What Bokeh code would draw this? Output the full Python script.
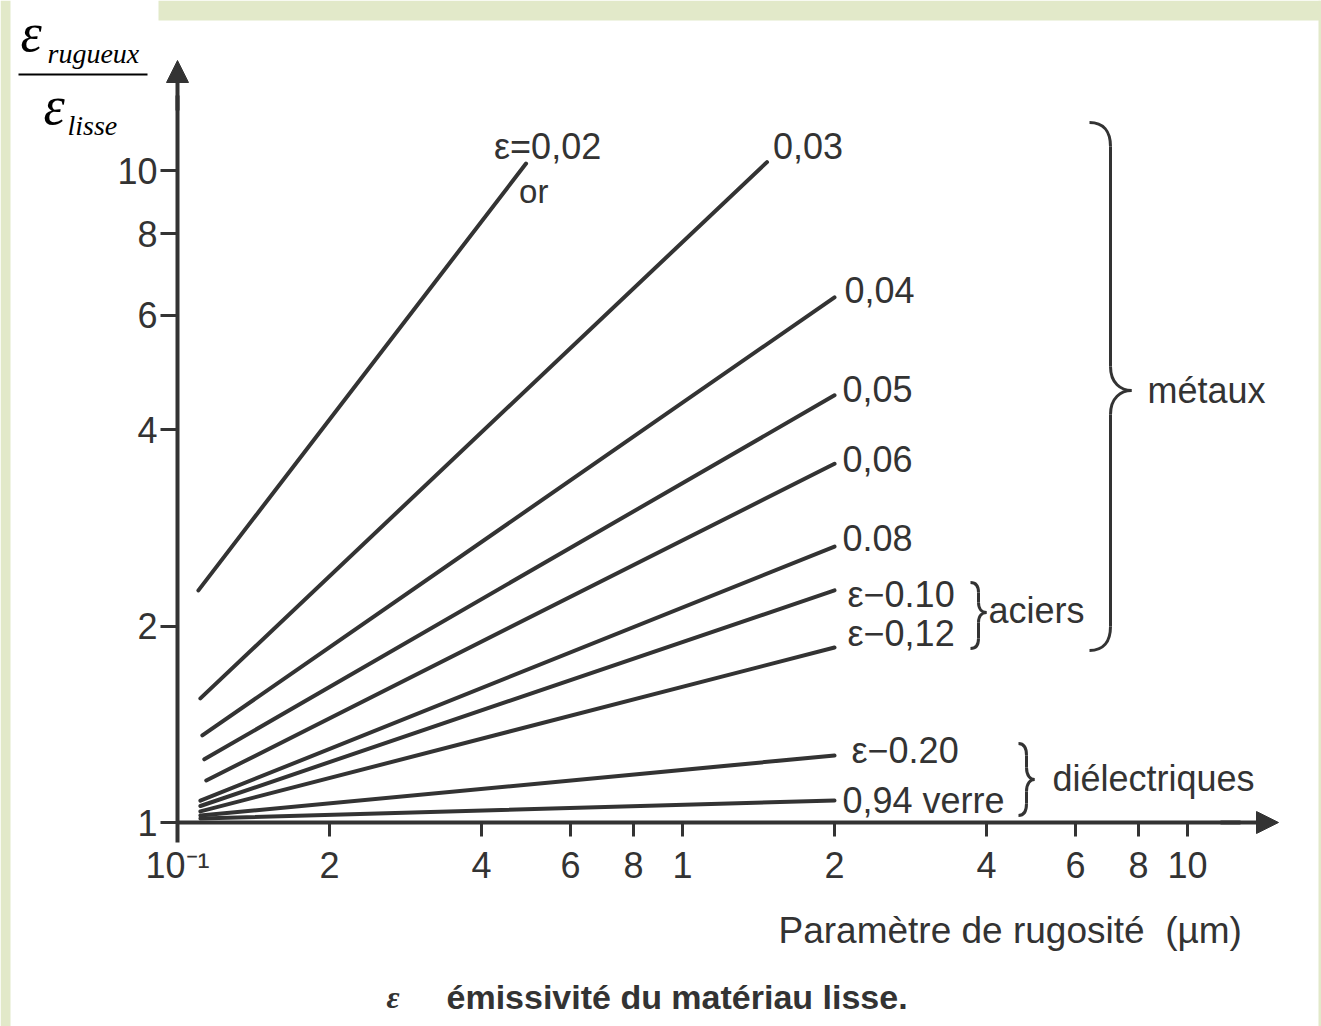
import math
from bokeh.plotting import figure
from bokeh.models import (ColumnDataSource, LogAxis, FixedTicker, Arrow, NormalHead,
                          Label, Range1d)
from bokeh.core.properties import value
from bokeh.embed import file_html
from bokeh.resources import INLINE

# ---------------- data ----------------
emissivity = ["0.02", "0.03", "0.04", "0.05", "0.06", "0.08", "0.10", "0.12", "0.20", "0.94"]
curve_labels = ["ε=0,02", "0,03", "0,04", "0,05", "0,06", "0.08", "ε−0.10", "ε−0,12", "ε−0.20", "0,94 verre"]
rough_start = [0.110, 0.111, 0.112, 0.113, 0.114, 0.111, 0.111, 0.111, 0.111, 0.111]   # µm
rough_end = [0.49, 1.47, 2.0, 2.0, 2.0, 2.0, 2.0, 2.0, 2.0, 2.0]                       # µm
ratio_start = [2.27, 1.55, 1.36, 1.25, 1.16, 1.08, 1.06, 1.04, 1.025, 1.014]
ratio_end = [10.25, 10.3, 6.39, 4.52, 3.55, 2.65, 2.27, 1.855, 1.267, 1.081]

x_ticks = [0.1, 0.2, 0.4, 0.6, 0.8, 1, 2, 4, 6, 8, 10]
x_tick_labels = ["10⁻¹", "2", "4", "6", "8", "1", "2", "4", "6", "8", "10"]
y_ticks = [1, 2, 4, 6, 8, 10]
y_tick_labels = ["1", "2", "4", "6", "8", "10"]

# ---------------- layout / style ----------------
W, H = 1321, 1026
X0_PX, X_DEC = 177, 505     # screen position of x = 0.1 and pixels per decade
Y0_PX, Y_DEC = 822, 652     # screen position of y = 1 and pixels per decade
INK = "#333333"
GREEN = "#e2e9c9"
FONT = value("Liberation Sans")

# label offsets (px) from the end of each curve (y positive = down)
label_dx = [-32, 6, 10, 8, 8, 8, 13, 13, 17, 8]
label_dy = [-17, -16, -7, -6, -5, -9, 4, -14, -5, 0]


def xd(px):
    return 0.1 * 10 ** ((px - X0_PX) / X_DEC)


def yd(py):
    return 10 ** ((Y0_PX - py) / Y_DEC)


p = figure(width=W, height=H, x_axis_type="log", y_axis_type="log",
           x_range=Range1d(xd(0), xd(W)), y_range=Range1d(yd(H), yd(0)),
           x_axis_location=None, y_axis_location=None,
           output_backend="svg", toolbar_location=None,
           min_border=0, min_border_left=0, min_border_right=0,
           min_border_top=0, min_border_bottom=0,
           background_fill_color="white", border_fill_color="white",
           outline_line_color=None)
p.xgrid.visible = False
p.ygrid.visible = False

# page frame strips (light green)
p.quad(left=[xd(0), xd(158), xd(1318)], right=[xd(10), xd(W), xd(W)],
       bottom=[yd(H), yd(20), yd(H)], top=[yd(0), yd(0), yd(0)],
       fill_color=GREEN, line_color=None)

# ---------------- axes ----------------
yax = LogAxis(fixed_location=0.1, ticker=FixedTicker(ticks=y_ticks),
              bounds=(yd(842), yd(95)))
yax.major_label_overrides = dict(zip(y_ticks, y_tick_labels))
xax = LogAxis(fixed_location=1.0, ticker=FixedTicker(ticks=x_ticks),
              bounds=(0.1, xd(1240)))
xax.major_label_overrides = dict(zip(x_ticks, x_tick_labels))
for ax in (yax, xax):
    ax.axis_line_color = INK
    ax.axis_line_width = 4
    ax.major_tick_line_color = INK
    ax.major_tick_line_width = 3
    ax.major_tick_in = 0
    ax.minor_tick_in = 0
    ax.minor_tick_out = 0
    ax.major_label_text_font = "Liberation Sans"
    ax.major_label_text_font_size = "36px"
    ax.major_label_text_color = INK
yax.major_tick_out = 17
yax.major_label_standoff = 3
xax.major_tick_out = 14
xax.major_label_standoff = 8
p.add_layout(yax, "left")
p.add_layout(xax, "below")

p.add_layout(Arrow(x_start=0.1, y_start=yd(110), x_end=0.1, y_end=yd(60),
                   end=NormalHead(size=22, fill_color=INK, line_color=INK, line_width=1),
                   line_width=4, line_color=INK))
p.add_layout(Arrow(x_start=xd(1220), y_start=1, x_end=xd(1278), y_end=1,
                   end=NormalHead(size=22, fill_color=INK, line_color=INK, line_width=1),
                   line_width=4, line_color=INK))

# ---------------- curves ----------------
for i in range(len(emissivity)):
    p.line(x=[rough_start[i], rough_end[i]], y=[ratio_start[i], ratio_end[i]],
           line_color=INK, line_width=4, line_cap="round")

src = ColumnDataSource(dict(x=rough_end, y=ratio_end, text=curve_labels,
                            dx=label_dx, dy=label_dy))
p.text(x="x", y="y", text="text", x_offset="dx", y_offset="dy", source=src,
       text_font=FONT, text_font_size="36px", text_color=INK,
       text_baseline="middle", text_align="left")

p.add_layout(Label(x=rough_end[0], y=ratio_end[0], x_offset=-7, y_offset=-28, text="or",
                   text_font="Liberation Sans", text_font_size="33px",
                   text_color=INK, text_baseline="middle"))


# ---------------- braces ----------------
def brace(xc, top, bot, tip, d_px, r_px):
    X, T, B, M = math.log10(xc), math.log10(top), math.log10(bot), math.log10(tip)
    d, r = d_px / X_DEC, r_px / Y_DEC
    segs = [
        ((X - d, T), (X - 0.35 * d, T), (X, T - 0.35 * r), (X, T - r)),
        ((X, T - r), (X, T - r), (X, M + r), (X, M + r)),
        ((X, M + r), (X, M + 0.3 * r), (X + 0.5 * d, M), (X + d, M)),
        ((X + d, M), (X + 0.5 * d, M), (X, M - 0.3 * r), (X, M - r)),
        ((X, M - r), (X, M - r), (X, B + r), (X, B + r)),
        ((X, B + r), (X, B + 0.35 * r), (X - 0.35 * d, B), (X - d, B)),
    ]
    out = dict(x0=[], y0=[], cx0=[], cy0=[], cx1=[], cy1=[], x1=[], y1=[])
    for (a, c0, c1, b) in segs:
        out["x0"].append(10 ** a[0]); out["y0"].append(10 ** a[1])
        out["cx0"].append(10 ** c0[0]); out["cy0"].append(10 ** c0[1])
        out["cx1"].append(10 ** c1[0]); out["cy1"].append(10 ** c1[1])
        out["x1"].append(10 ** b[0]); out["y1"].append(10 ** b[1])
    return out


for b in (brace(xd(1110), yd(122), yd(650), yd(390), 21, 24),
          brace(xd(978), yd(582), yd(648), yd(612), 8, 10),
          brace(xd(1026), yd(743), yd(815), yd(779), 8, 12)):
    p.bezier(source=ColumnDataSource(b), x0="x0", y0="y0", x1="x1", y1="y1",
             cx0="cx0", cy0="cy0", cx1="cx1", cy1="cy1", line_color=INK, line_width=3)

for txt, px, py in (("métaux", 1147, 390), ("aciers", 988, 610), ("diélectriques", 1052, 778)):
    p.add_layout(Label(x=xd(px), y=yd(py), text=txt, text_font="Liberation Sans",
                       text_font_size="36px", text_color=INK, text_baseline="middle"))

# ---------------- axis title, caption ----------------
p.add_layout(Label(x=xd(778), y=yd(930), text="Paramètre de rugosité\u00a0\u00a0(µm)",
                   text_font="Liberation Sans", text_font_size="37px",
                   text_color=INK, text_baseline="middle"))
p.add_layout(Label(x=xd(386), y=yd(996), text="ε", text_font="Liberation Serif",
                   text_font_style="bold italic", text_font_size="32px",
                   text_color=INK, text_baseline="middle"))
p.add_layout(Label(x=xd(446), y=yd(996), text="émissivité du matériau lisse.",
                   text_font="Liberation Sans", text_font_style="bold",
                   text_font_size="34px", text_color=INK, text_baseline="middle"))

# ---------------- y title: fraction ----------------
for txt, px, py, size in (("ε", 20, 32, "54px"), ("rugueux", 47, 53, "28px"),
                          ("ε", 43, 105, "54px"), ("lisse", 67, 125, "28px")):
    p.add_layout(Label(x=xd(px), y=yd(py), text=txt, text_font="Liberation Serif",
                       text_font_style="italic", text_font_size=size,
                       text_color="black", text_baseline="middle"))
p.segment(x0=[xd(18)], x1=[xd(147)], y0=[yd(74)], y1=[yd(74)],
          line_color="black", line_width=2)

open("out.html", "w").write(file_html(p, INLINE))
